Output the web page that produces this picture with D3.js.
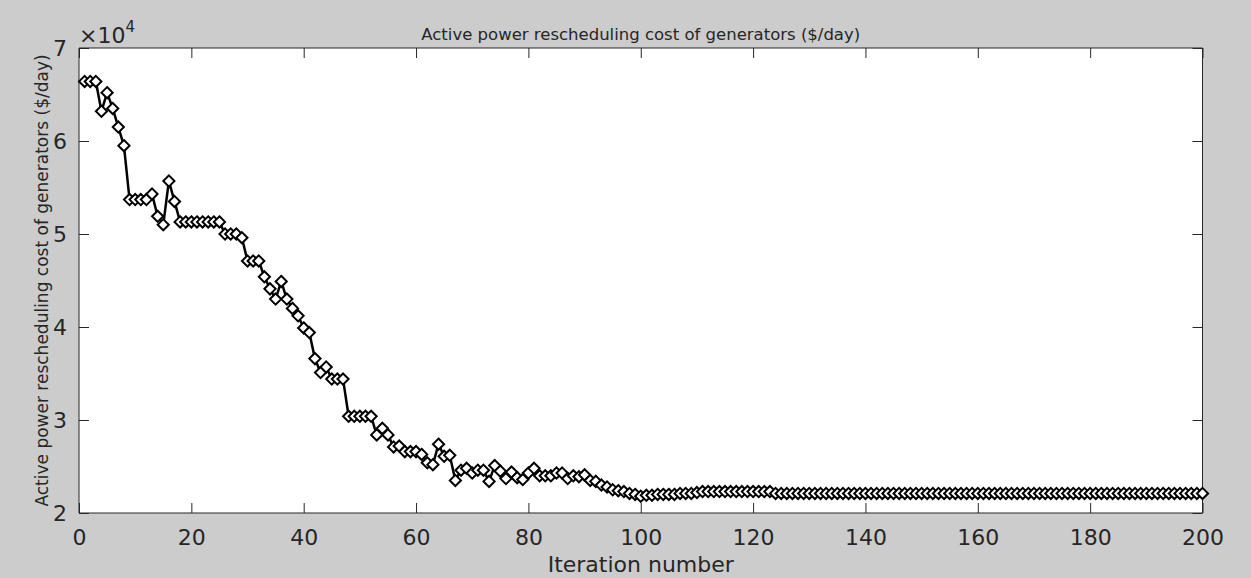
<!DOCTYPE html>
<html>
<head>
<meta charset="utf-8">
<script src="https://cdn.jsdelivr.net/npm/d3@7"></script>
<style>
  html, body { margin: 0; padding: 0; background: #cccccc; }
  svg { display: block; }
  text { font-family: "DejaVu Sans", sans-serif; fill: #262626; }
</style>
</head>
<body>
<svg id="chart" width="1251" height="578"></svg>
<script>
// ---- data (cost in units of 10^4 $/day) ----
const iterations = d3.range(1, 201);
const cost = [
  6.64,6.64,6.64,6.32,6.52,6.35,6.15,5.95,5.37,5.37,
  5.37,5.37,5.43,5.19,5.10,5.57,5.35,5.13,5.13,5.13,
  5.13,5.13,5.13,5.13,5.13,5.00,5.00,5.00,4.96,4.71,
  4.71,4.71,4.54,4.41,4.30,4.49,4.30,4.20,4.12,3.99,
  3.94,3.66,3.51,3.57,3.44,3.44,3.44,3.04,3.04,3.04,
  3.04,3.04,2.84,2.91,2.84,2.71,2.72,2.66,2.66,2.66,
  2.63,2.54,2.52,2.74,2.61,2.62,2.35,2.46,2.48,2.43,
  2.46,2.46,2.34,2.51,2.45,2.37,2.44,2.38,2.36,2.43,
  2.48,2.40,2.40,2.40,2.43,2.43,2.37,2.40,2.39,2.41,
  2.35,2.34,2.30,2.28,2.25,2.24,2.23,2.21,2.20,2.18,
  2.19,2.19,2.20,2.20,2.20,2.20,2.21,2.21,2.21,2.22,
  2.23,2.23,2.23,2.23,2.23,2.23,2.23,2.23,2.23,2.23,
  2.23,2.23,2.23,2.21,2.21,2.21,2.21,2.21,2.21,2.21,
  2.21,2.21,2.21,2.21,2.21,2.21,2.21,2.21,2.21,2.21,
  2.21,2.21,2.21,2.21,2.21,2.21,2.21,2.21,2.21,2.21,
  2.21,2.21,2.21,2.21,2.21,2.21,2.21,2.21,2.21,2.21,
  2.21,2.21,2.21,2.21,2.21,2.21,2.21,2.21,2.21,2.21,
  2.21,2.21,2.21,2.21,2.21,2.21,2.21,2.21,2.21,2.21,
  2.21,2.21,2.21,2.21,2.21,2.21,2.21,2.21,2.21,2.21,
  2.21,2.21,2.21,2.21,2.21,2.21,2.21,2.21,2.21,2.21
];
const xTicks = [0, 20, 40, 60, 80, 100, 120, 140, 160, 180, 200];
const yTicks = [2, 3, 4, 5, 6, 7];
const titleText = "Active power rescheduling cost of generators ($/day)";
const xLabelText = "Iteration number";
const yLabelText = "Active power rescheduling cost of generators ($/day)";

// ---- layout ----
const W = 1251, H = 578;
const m = { left: 79, top: 48, right: 48.5, bottom: 65 };
const pw = W - m.left - m.right, ph = H - m.top - m.bottom;
const svg = d3.select("#chart");
const x = d3.scaleLinear().domain([0, 200]).range([m.left, m.left + pw]);
const y = d3.scaleLinear().domain([2, 7]).range([m.top + ph, m.top]);
const axisColor = "#262626";

// plot background
svg.append("rect").attr("x", m.left).attr("y", m.top)
  .attr("width", pw).attr("height", ph).attr("fill", "#ffffff");

// axes with inward ticks
const tickLen = 10;
const gx = svg.append("g").attr("transform", `translate(0,${m.top + ph})`)
  .call(d3.axisBottom(x).tickValues(xTicks).tickSize(-tickLen).tickPadding(tickLen + 6).tickFormat(d3.format("d")));
const gxt = svg.append("g").attr("transform", `translate(0,${m.top})`)
  .call(d3.axisTop(x).tickValues(xTicks).tickSize(-tickLen).tickFormat(""));
const gy = svg.append("g").attr("transform", `translate(${m.left},0)`)
  .call(d3.axisLeft(y).tickValues(yTicks).tickSize(-tickLen).tickPadding(tickLen + 2).tickFormat(d3.format("d")));
const gyr = svg.append("g").attr("transform", `translate(${m.left + pw},0)`)
  .call(d3.axisRight(y).tickValues(yTicks).tickSize(-tickLen).tickFormat(""));
[gx, gxt, gy, gyr].forEach(g => {
  g.selectAll("path.domain").attr("stroke", axisColor).attr("stroke-width", 1);
  g.selectAll(".tick line").attr("stroke", axisColor).attr("stroke-width", 1);
  g.selectAll(".tick text").style("font-family", "DejaVu Sans").style("font-size", "22px").attr("fill", axisColor);
});
[gx, gxt].forEach(g => g.select("path.domain").attr("d", `M${m.left},0H${m.left + pw}`));
[gy, gyr].forEach(g => g.select("path.domain").attr("d", `M0,${m.top}V${m.top + ph}`));

// data line and markers
const pts = iterations.map((it, i) => ({ it, v: cost[i] }));
const plot = svg.append("g");
plot.append("path").datum(pts)
  .attr("fill", "none").attr("stroke", "#000").attr("stroke-width", 2.5)
  .attr("stroke-linejoin", "round")
  .attr("d", d3.line().x(d => x(d.it)).y(d => y(d.v)));
const r = 5.6;
plot.selectAll("path.mk").data(pts).join("path").attr("class", "mk")
  .attr("transform", d => `translate(${x(d.it)},${y(d.v)})`)
  .attr("d", `M0,${-r}L${r},0L0,${r}L${-r},0Z`)
  .attr("fill", "#fff").attr("stroke", "#000").attr("stroke-width", 2);

// exponent label
const ex = svg.append("text").attr("x", 79).attr("y", 43).style("font-size", "22px").attr("fill", "#404040");
ex.append("tspan").text("×10");
ex.append("tspan").attr("dy", -11).style("font-size", "15px").text("4");

// title
svg.append("text").attr("x", m.left + pw / 2).attr("y", 40)
  .attr("text-anchor", "middle").style("font-size", "16.5px").text(titleText);
// x label
svg.append("text").attr("x", m.left + pw / 2).attr("y", 572)
  .attr("text-anchor", "middle").style("font-size", "22px").text(xLabelText);
// y label
svg.append("text").attr("transform", `translate(48,${m.top + ph / 2}) rotate(-90)`)
  .attr("text-anchor", "middle").style("font-size", "17px").text(yLabelText);
</script>
</body>
</html>
